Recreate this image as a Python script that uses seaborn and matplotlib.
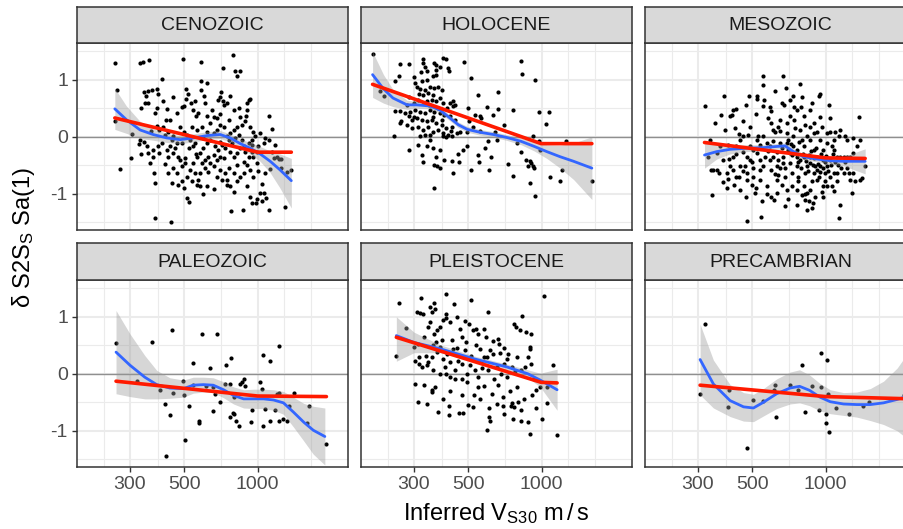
import matplotlib
matplotlib.use('Agg')
import matplotlib.pyplot as plt
from matplotlib.ticker import NullFormatter
import seaborn as sns

sns.set_theme(style='white')
plt.rcParams['font.family'] = ['Liberation Sans', 'DejaVu Sans']
plt.rcParams['mathtext.fontset'] = 'custom'
plt.rcParams['mathtext.rm'] = 'Liberation Sans'
plt.rcParams['mathtext.it'] = 'Liberation Sans:italic'

# ---------------- data ----------------
panels = ['CENOZOIC', 'HOLOCENE', 'MESOZOIC', 'PALEOZOIC', 'PLEISTOCENE', 'PRECAMBRIAN']
x_ticks = [300, 500, 1000]
x_tick_labels = ['300', '500', '1000']
y_ticks = [-1, 0, 1]
y_tick_labels = ['-1', '0', '1']
x_label = r'Inferred V$_\mathregular{S30}$ m$\,$/$\,$s'
y_label = r'δ S2S$_\mathregular{S}$ Sa(1)'

cen_pts = [(260,1.29),(266,0.82),(260,0.27),(272,-0.57),(302,-0.37),(305,0.05),(330,1.29),(338,1.32),(359,1.35),(407,1.01),
 (341,0.78),(357,0.80),(348,0.71),(369,0.82),(386,0.84),(392,0.75),(346,0.60),(356,0.59),(333,0.50),(408,0.62),
 (386,0.50),(381,0.42),(424,0.49),(330,-0.05),(328,-0.12),(341,-0.10),(351,-0.17),(333,-0.30),(373,-0.35),(376,-0.63),
 (381,-0.81),(380,-1.43),(442,-1.50),(386,0.19),(395,0.12),(411,0.17),(431,0.09),(452,0.01),(392,-0.17),(424,-0.24),
 (417,-0.47),(431,-0.35),(452,-0.29),(438,0.30),(466,0.42),(489,0.53),(497,0.54),(508,0.84),(494,1.36),(509,0.66),
 (534,0.59),(545,0.47),(554,0.62),(558,0.37),(572,0.42),(587,1.32),(585,0.97),(587,0.82),(604,0.72),(610,0.59),
 (649,0.47),(619,0.36),(660,0.35),(680,0.33),(691,0.65),(702,0.70),(709,0.78),(720,0.62),(725,0.56),(748,0.59),
 (772,0.71),(797,0.47),(835,0.50),(720,1.20),(792,1.43),(809,1.16),(822,1.07),(849,1.16),(903,0.59),(918,0.65),
 (932,0.67),(903,0.47),(898,0.36),(1112,0.36),(1150,0.13),(1108,-0.06),(1073,-0.02),(1058,-0.11),(1024,0.06),(1317,-0.61),
 (1374,-0.59),(1218,-0.39),(1162,-0.37),(1119,-0.57),(1073,-0.64),(1041,-0.82),(1058,-0.99),(1080,-1.08),(1041,-1.13),(983,-1.16),
 (1116,-1.29),(1295,-1.24),(875,-1.28),(779,-1.31),
 (660,-0.92),(619,-0.87),(581,-0.87),(521,-1.15),(512,-1.08),(497,-0.90),(474,-0.84),(445,-0.81),(466,-0.63),(489,-0.52),
 (506,-0.46),(529,-0.58),(554,-0.64),(572,-0.75),(581,-0.64),(610,-0.55),(629,-0.61),(639,-0.46),(660,-0.52),(680,-0.40),
 (702,-0.35),(725,-0.37),(736,-0.64),(748,-0.75),(772,-0.87),(797,-0.96),(822,-0.78),(849,-0.70),(876,-0.64),(903,-0.49),
 (932,-0.58),(961,-0.70),(992,-0.46),(961,-0.35),(797,-0.35),(772,-0.26),(822,-0.29),(849,-0.20),(876,-0.17),(918,-0.11),
 (947,-0.05),(977,0.01),(1008,-0.17),(992,-0.26),(961,0.09),(932,0.18),(889,0.27),(862,0.21),(822,0.18),(797,0.12),
 (772,0.06),(748,0.01),(725,0.18),(702,0.21),(680,0.12),(660,0.06),(639,-0.05),(619,-0.11),(600,-0.20),(581,-0.29),
 (563,-0.35),(545,-0.17),(529,-0.05),(512,0.04),(497,0.09),(482,0.18),(537,0.18),(563,0.12),(591,0.18),(619,0.09),
 (600,-0.02),(554,-0.11),(521,-0.20),(489,-0.11),(466,-0.11),(445,-0.05),(474,-0.35),(505,-0.37),(670,-0.17),(691,-0.23),
 (713,-0.14),(736,-0.20),(760,-0.05),(784,-0.11),(809,-0.02),(835,0.04),(862,-0.05),(889,-0.26),(918,-0.35),(947,-0.26),
 (660,-0.32),(629,-0.35),(610,-0.40),(591,-0.46),(545,-0.46),(702,-0.58),(680,-0.70),(713,-0.75),(748,-0.84),(797,-0.64),
 (512,-0.70),(537,-0.78),(563,-0.84),(489,-0.78),(452,-0.55),(431,-0.64),(396,-0.29),(373,-0.23),(357,-0.29),(362,-0.46),
 (404,-0.11),(438,-0.17),(417,0.04),(459,-0.20),(903,-0.87),(932,-1.05),(947,-1.16),(992,-1.10),(1024,-0.99),(1198,-0.35),
 (1143,-0.26),(1245,-0.39),
 (450,0.70),(520,0.75),(620,0.95),(700,0.40),(760,0.30),(850,0.35),(950,-0.15),(880,-0.45),(820,-0.50),(760,-0.55),
 (700,-0.10),(640,0.25),(560,-0.30),(480,-0.40),(420,0.30),(365,0.10),(1000,-0.60),(1180,-0.15),(1250,-0.55),(600,-1.00)]

hol_pts = [(203,1.45),(218,0.80),(227,0.71),(248,0.02),(250,0.97),(261,1.06),(263,1.28),(285,1.28),(250,0.46),(263,0.46),
 (287,-0.23),(265,0.27),(328,1.36),(328,1.29),(333,1.23),(363,1.29),(368,1.26),(383,1.23),(395,1.38),(406,1.36),
 (415,1.20),(416,1.16),(321,1.13),(340,1.15),(368,1.18),(323,0.97),(340,1.00),(359,1.06),(368,1.09),(304,0.94),
 (308,0.87),(318,0.84),(333,0.82),(349,0.88),(363,0.85),(375,0.87),(389,0.82),(328,0.74),(344,0.77),(359,0.74),
 (383,0.68),(313,0.65),(299,0.59),(338,0.62),(354,0.65),(368,0.62),(395,0.59),(421,0.59),(435,0.54),(442,0.56),
 (432,0.62),(281,0.56),(290,0.44),(304,0.47),(318,0.44),(333,0.42),(349,0.47),(363,0.44),(383,0.42),(400,0.39),
 (421,0.36),(276,0.42),(285,0.36),(294,0.30),(308,0.33),(323,0.30),(338,0.27),(354,0.30),(368,0.24),(389,0.21),
 (406,0.15),(428,0.18),(263,0.24),(281,0.21),(294,0.15),(313,0.18),(328,0.12),(344,0.18),(359,0.09),(375,0.12),
 (395,0.06),(413,0.04),(318,0.01),(333,0.04),(349,0.04),(395,0.01),(406,-0.01),(428,0.02),(449,0.06),(464,0.09),
 (313,-0.14),(338,-0.17),(359,-0.20),(383,-0.23),(323,-0.32),(328,-0.45),(363,-0.49),(371,-0.51),(383,-0.55),(435,-0.64),
 (431,-0.42),(456,-0.30),(363,-0.90),(483,1.32),(515,1.03),(478,-0.23),(496,-0.17),(515,-0.58),(547,0.74),(547,-0.32),
 (553,-0.45),(586,-0.20),(596,0.52),(602,-0.08),(607,-0.58),(634,0.39),(644,0.09),(665,0.49),(665,0.78),(531,0.39),
 (557,0.36),(563,0.33),(506,0.27),(522,0.18),(496,0.09),(654,-0.05),(731,-0.47),(764,0.47),(764,-0.68),(796,-0.11),
 (824,-0.26),(824,1.33),(832,1.11),(938,1.00),(865,-0.40),(892,-0.43),(906,-0.46),(920,-0.52),(878,-0.52),(934,-0.55),
 (892,-0.81),(938,-1.04),(972,0.44),(1067,0.44),(1040,0.22),(920,0.01),(972,-0.08),(986,-0.23),(1083,-0.70),(1191,-0.78),
 (1208,-0.58),(1254,-0.07),(1606,-0.77),
 (300,1.05),(315,0.75),(345,0.55),(360,0.35),(375,0.50),(390,0.30),(410,0.50),(425,0.10),(440,0.30),(300,0.35),
 (285,0.70),(330,0.60),(350,-0.05),(370,-0.35),(400,-0.40),(460,-0.45),(500,0.50),(560,0.10),(700,0.20),(620,-0.35)]

mes_pts = [(321,0.54),(336,-0.06),(339,-0.58),(342,-1.02),(352,0.24),(360,-0.58),(367,-0.64),(372,0.39),(384,0.72),(387,0.12),
 (393,-0.90),(399,-0.74),(403,-0.39),(406,0.36),(412,0.39),(419,0.47),(429,0.48),(425,0.15),(431,-0.70),(442,-0.71),
 (445,-0.93),(459,0.27),(459,-0.26),(468,-0.52),(475,-0.75),(478,-1.47),(482,0.04),(486,0.71),(489,-0.17),(497,-0.84),
 (506,-0.55),(514,-0.99),(522,0.71),(525,0.66),(530,0.02),(539,-0.75),(542,-1.40),(547,-1.13),(552,1.07),(556,0.91),
 (556,0.54),(565,-0.35),(573,-0.87),(576,-1.00),(582,0.33),(591,0.53),(600,0.24),(611,-0.35),(614,-1.11),(621,0.09),
 (630,-0.75),(641,0.18),(651,-0.55),(661,0.59),(672,1.07),(676,0.56),(682,-1.22),(693,0.24),(704,-0.23),(715,0.36),
 (726,-0.32),(738,0.71),(743,0.53),(750,0.15),(762,-0.52),(774,-0.70),(787,0.92),(792,0.53),(799,-0.05),(812,-0.87),
 (824,-1.11),(838,-1.28),(851,-0.32),(865,0.18),(879,0.59),(888,-1.16),(893,-0.23),(906,-0.52),(921,-0.75),(936,0.71),
 (951,0.75),(965,0.18),(980,-0.40),(995,-0.64),(1011,0.06),(1028,0.56),(1045,0.33),(1062,-0.17),(1079,-0.64),(1094,0.09),
 (1111,-0.35),(1129,0.01),(1147,-1.19),(1147,-0.35),(1184,-0.35),(1202,0.01),(1221,-0.55),(1241,-0.64),(1260,-0.35),(1280,-0.99),
 (1300,-0.02),(1321,-0.78),(1342,-0.17),(1374,0.34),(1410,-0.72),(1452,-0.52),(1129,-1.43),(879,-1.25),(851,-1.13),(838,-0.99),
 (591,-0.17),(611,-0.08),(630,-0.26),(651,-0.11),(672,-0.35),(693,-0.11),(715,-0.46),(738,-0.17),(762,-0.35),(787,-0.40),
 (812,-0.17),(838,-0.52),(865,-0.35),(893,-0.64),(921,-0.35),(951,-0.52),(980,-0.23),(1011,-0.52),(1045,-0.40),(1079,-0.23),
 (1111,-0.64),(600,-0.58),(641,-0.67),(682,-0.70),(726,-0.64),(774,-0.78),(824,-0.64),(879,-0.78),(936,-0.70),(995,-0.78),
 (1062,-0.87),(611,0.12),(651,0.30),(693,0.06),(738,0.01),(787,0.12),(838,0.01),(893,0.06),(951,-0.05),(1011,-0.11),
 (1079,-0.05),(921,0.09),(812,0.36),(762,0.47),(715,0.65),(865,0.47),(522,-0.29),(539,-0.40),(556,-0.52),(506,-0.23),
 (489,-0.40),(475,-0.35),(445,-0.05),(431,-0.17),(419,-0.35),(406,-0.52),(393,-0.64),(381,-0.40),(370,-0.17),(358,-0.29),
 (347,-0.58),(331,-0.35),(459,0.01),(489,0.18),(522,-0.05),(556,0.01),(573,-0.11),(591,-0.40),(630,-0.52),(672,-0.46),
 (715,-0.29),(762,-0.23),(812,-0.35),(865,-0.46),(921,-0.58),(980,-0.87),(1045,-0.70),(1111,-0.78),(1184,-0.64),(1260,-0.75),
 (1221,-0.35),(1300,-0.64),(1386,-0.75),(1011,-0.87),(965,-0.96),(906,-1.05),(865,-0.93),(799,-1.02),(762,-0.93),(726,-0.87),
 (693,-0.93),(661,-0.84),(630,-0.99),(445,-0.52),(475,-0.64),(506,-0.70),(539,-0.58),(419,-0.58),(1147,0.12),(1045,0.09),
 (1221,-0.05),(1300,-0.29),(1386,-0.05),
 (700,-0.05),(720,-0.12),(745,-0.28),(770,-0.45),(790,-0.55),(805,-0.30),(830,-0.42),(845,-0.60),(870,-0.25),(885,-0.50),
 (900,-0.38),(915,-0.20),(930,-0.47),(945,-0.62),(960,-0.30),(975,-0.55),(990,-0.45),(1005,-0.33),(1020,-0.60),(1050,-0.50),
 (1070,-0.30),(1090,-0.45),(1120,-0.50),(1160,-0.55),(1200,-0.45),(780,-0.10),(820,0.20),(860,-0.05),(900,0.25),(950,0.35),
 (640,-0.40),(660,-0.20),(680,-0.55),(620,-0.65),(580,-0.25),(540,-0.15),(500,-0.45),(460,-0.60),(430,-0.30),(400,-0.15),
 (380,-0.80),(420,-0.85),(470,-1.05),(520,-0.90),(600,-1.05),(700,-1.10),(760,-1.20),(820,-1.00),(980,-1.05),(1080,-0.95),
 (560,0.65),(620,0.80),(690,0.85),(740,0.30),(800,0.70),(600,0.45),(650,0.10),(470,0.55),(520,0.40),(440,0.05)]

pal_pts = [(263,0.54),(322,-0.13),(369,0.56),(400,-0.28),(416,-0.53),(420,-1.44),(437,-0.72),(444,0.77),(452,-0.34),(494,-0.12),
 (497,-0.38),(505,-1.17),(521,-0.56),(545,0.19),(545,-0.19),(575,-0.82),(575,-0.87),(589,0.69),(613,-0.22),(637,0.11),
 (654,-0.65),(669,-0.36),(680,0.69),(702,-0.50),(743,0.16),(736,-0.18),(772,-0.18),(777,0.28),(772,-0.76),(789,-0.69),
 (797,-0.70),(797,-0.41),(817,-0.82),(835,-0.91),(849,-0.18),(862,-0.15),(876,-0.09),(884,-0.22),(937,-0.85),(947,-0.64),
 (1024,-0.15),(1041,-0.26),(1047,0.33),(1047,-0.91),(1073,-0.61),(1119,-0.82),(1126,0.22),(1177,-0.63),(1198,-0.35),(1218,-0.82),
 (1222,0.49),(1229,-0.33),(1276,-0.80),(1317,-0.82),(1338,-0.56),(1415,-0.33),(1586,-0.87),(1620,-0.57),(1913,-1.24),(658,-0.23)]

ple_pts = [(260,1.25),(254,0.31),(278,0.81),(304,-0.18),(312,-0.50),(309,1.09),(318,1.06),(320,1.33),(326,1.04),(349,1.18),
 (364,1.24),(366,1.14),(354,1.08),(343,0.82),(361,0.70),(373,0.76),(383,0.82),(395,0.94),(406,1.05),(406,1.40),
 (404,0.98),(421,0.91),(437,1.22),(448,0.99),(464,0.79),(484,0.92),(505,0.88),(513,1.30),(523,0.76),(540,0.79),
 (548,0.70),(583,0.79),(601,1.09),(592,0.64),(634,0.58),(665,0.61),(667,0.53),(771,0.87),(783,0.82),(831,1.01),
 (819,0.76),(865,0.73),(903,0.69),(892,0.47),(896,0.44),(1018,1.36),(311,0.53),(315,0.29),(315,0.18),(325,0.12),
 (335,0.32),(344,0.20),(354,0.29),(359,0.06),(373,0.38),(383,0.47),(395,0.26),(402,0.12),(406,0.00),(421,0.20),
 (435,0.44),(442,0.06),(456,0.23),(471,0.18),(487,0.41),(496,0.00),(513,0.32),(531,0.06),(548,-0.06),(557,0.44),
 (563,0.20),(583,0.29),(602,0.06),(616,0.41),(634,0.35),(654,0.12),(676,0.36),(698,0.18),(720,0.26),(731,0.35),
 (758,0.12),(796,0.29),(824,0.06),(851,0.12),(878,0.29),(906,0.18),(304,0.23),(301,0.47),(338,0.15),(383,0.00),
 (356,-0.29),(354,-0.32),(366,-0.23),(375,-0.67),(338,-0.53),(395,-0.44),(416,-0.57),(416,-0.73),(421,-0.06),(442,-0.09),
 (459,-0.69),(476,-0.69),(471,-0.38),(496,-0.15),(499,-0.54),(522,-0.58),(530,-0.38),(548,-0.23),(583,-0.22),(596,-0.98),
 (609,-0.75),(614,-0.82),(627,-0.35),(654,-0.53),(665,-0.20),(693,-0.41),(693,-0.56),(720,-0.06),(746,-0.56),(758,-0.51),
 (771,-0.58),(796,-0.23),(824,-0.64),(824,-0.83),(878,-0.85),(896,-1.06),(909,-0.38),(948,-0.29),(1000,-0.79),(1050,-0.51),
 (1113,0.16),(1157,-1.08),(983,-0.23),(1050,-0.23),
 (330,0.65),(350,0.90),(370,0.55),(390,0.60),(410,0.35),(430,0.60),(450,0.45),(470,0.65),(490,0.55),(510,0.15),
 (540,0.50),(570,0.10),(600,0.30),(640,-0.10),(680,0.00),(700,0.45),(740,-0.30),(780,0.05),(850,-0.45),(930,-0.10),
 (330,-0.20),(360,0.50),(420,-0.30),(470,-0.10),(560,-0.45),(610,-0.60),(700,-0.70),(760,-0.80),(800,-0.50),(950,-0.60)]

pre_pts = [(306,-0.36),(321,0.87),(397,-0.58),(401,-0.28),(476,-1.30),(503,-0.46),(556,-0.47),(614,-0.28),(623,-0.20),(625,-0.75),
 (715,-0.20),(774,-0.28),(799,0.16),(826,-0.67),(882,-0.22),(939,-0.63),(955,0.37),(958,-0.23),(1005,-0.71),(1005,-0.87),
 (1011,0.25),(1018,-0.36),(1035,-1.02),(1105,-0.60),(1245,-0.70),(1421,-0.57),(1512,-0.50),(2088,-0.37)]

# LOESS curves (blue) with confidence band, and piecewise fits (red)
cen_loess_x = [260, 290, 330, 373, 424, 482, 545, 619, 702, 772, 849, 932, 1024, 1126, 1235, 1374]
cen_loess_y = [0.49, 0.30, 0.12, 0.04, -0.02, -0.05, -0.02, 0.02, 0.04, -0.02, -0.12, -0.20, -0.30, -0.43, -0.58, -0.77]
cen_lo = [0.13, 0.06, -0.03, -0.06, -0.10, -0.12, -0.09, -0.05, -0.03, -0.09, -0.20, -0.30, -0.43, -0.63, -0.90, -1.25]
cen_hi = [0.85, 0.54, 0.27, 0.14, 0.06, 0.02, 0.05, 0.09, 0.11, 0.05, -0.04, -0.10, -0.17, -0.25, -0.30, -0.38]
cen_fit_x = [260, 1000, 1374]
cen_fit_y = [0.33, -0.27, -0.27]

hol_loess_x = [203, 225, 246, 281, 308, 349, 383, 421, 456, 496, 557, 634, 716, 824, 934, 1050, 1191, 1352, 1606]
hol_loess_y = [1.09, 0.84, 0.68, 0.56, 0.56, 0.54, 0.47, 0.33, 0.21, 0.13, 0.08, 0.04, -0.01, -0.08, -0.17, -0.26, -0.35, -0.43, -0.55]
hol_lo = [0.69, 0.59, 0.53, 0.48, 0.50, 0.49, 0.42, 0.28, 0.16, 0.08, 0.03, -0.01, -0.06, -0.14, -0.25, -0.38, -0.55, -0.75, -1.10]
hol_hi = [1.49, 1.09, 0.83, 0.64, 0.62, 0.59, 0.52, 0.38, 0.26, 0.18, 0.13, 0.09, 0.04, -0.02, -0.09, -0.14, -0.15, -0.11, 0.00]
hol_fit_x = [203, 995, 1606]
hol_fit_y = [0.92, -0.12, -0.12]

mes_loess_x = [319, 358, 406, 475, 556, 630, 682, 738, 812, 921, 1045, 1184, 1452]
mes_loess_y = [-0.32, -0.26, -0.22, -0.20, -0.19, -0.17, -0.16, -0.26, -0.35, -0.39, -0.42, -0.43, -0.43]
mes_lo = [-0.55, -0.39, -0.30, -0.26, -0.24, -0.22, -0.21, -0.31, -0.40, -0.44, -0.48, -0.51, -0.65]
mes_hi = [-0.09, -0.13, -0.14, -0.14, -0.14, -0.12, -0.11, -0.21, -0.30, -0.34, -0.36, -0.35, -0.21]
mes_fit_x = [319, 1000, 1452]
mes_fit_y = [-0.10, -0.37, -0.38]

pal_loess_x = [263, 300, 345, 386, 437, 497, 545, 600, 658, 725, 797, 876, 961, 1058, 1162, 1276, 1400, 1546, 1690, 1885]
pal_loess_y = [0.38, 0.15, -0.06, -0.19, -0.25, -0.26, -0.20, -0.19, -0.20, -0.28, -0.38, -0.44, -0.44, -0.44, -0.46, -0.51, -0.67, -0.85, -0.99, -1.10]
pal_lo = [-0.35, -0.40, -0.44, -0.44, -0.43, -0.41, -0.34, -0.32, -0.33, -0.42, -0.53, -0.60, -0.61, -0.61, -0.64, -0.71, -0.93, -1.18, -1.41, -1.60]
pal_hi = [1.11, 0.70, 0.32, 0.06, -0.07, -0.11, -0.06, -0.06, -0.07, -0.14, -0.23, -0.28, -0.27, -0.27, -0.28, -0.31, -0.41, -0.52, -0.57, -0.60]
pal_fit_x = [263, 1000, 1913]
pal_fit_y = [-0.13, -0.39, -0.40]

ple_loess_x = [254, 300, 383, 531, 720, 878, 986, 1157]
ple_loess_y = [0.67, 0.55, 0.44, 0.26, 0.12, 0.00, -0.11, -0.28]
ple_lo = [0.22, 0.37, 0.37, 0.21, 0.07, -0.07, -0.23, -0.64]
ple_hi = [1.00, 0.73, 0.51, 0.31, 0.17, 0.07, 0.01, 0.08]
ple_fit_x = [254, 995, 1157]
ple_fit_y = [0.64, -0.15, -0.16]

pre_loess_x = [306, 347, 406, 461, 506, 556, 630, 715, 782, 859, 948, 1045, 1184, 1342, 1523, 1727, 1963, 2250]
pre_loess_y = [0.25, -0.18, -0.47, -0.58, -0.60, -0.50, -0.35, -0.25, -0.22, -0.29, -0.41, -0.49, -0.53, -0.54, -0.54, -0.51, -0.45, -0.37]
pre_lo = [-0.37, -0.60, -0.75, -0.83, -0.84, -0.74, -0.61, -0.53, -0.51, -0.56, -0.65, -0.70, -0.73, -0.76, -0.82, -0.89, -1.00, -1.20]
pre_hi = [0.87, 0.24, -0.19, -0.33, -0.36, -0.26, -0.09, 0.03, 0.07, -0.02, -0.17, -0.28, -0.33, -0.32, -0.26, -0.13, 0.10, 0.46]
pre_fit_x = [306, 1000, 2250]
pre_fit_y = [-0.20, -0.40, -0.44]

panel_data = {
    'CENOZOIC': (cen_pts, cen_loess_x, cen_loess_y, cen_lo, cen_hi, cen_fit_x, cen_fit_y),
    'HOLOCENE': (hol_pts, hol_loess_x, hol_loess_y, hol_lo, hol_hi, hol_fit_x, hol_fit_y),
    'MESOZOIC': (mes_pts, mes_loess_x, mes_loess_y, mes_lo, mes_hi, mes_fit_x, mes_fit_y),
    'PALEOZOIC': (pal_pts, pal_loess_x, pal_loess_y, pal_lo, pal_hi, pal_fit_x, pal_fit_y),
    'PLEISTOCENE': (ple_pts, ple_loess_x, ple_loess_y, ple_lo, ple_hi, ple_fit_x, ple_fit_y),
    'PRECAMBRIAN': (pre_pts, pre_loess_x, pre_loess_y, pre_lo, pre_hi, pre_fit_x, pre_fit_y),
}

# ---------------- layout ----------------
W, H = 904, 529
fig = plt.figure(figsize=(W / 100, H / 100), dpi=100)
col_left = [77, 361, 645]
pw = 271
rows = [(7, 43, 230), (243, 280, 467)]  # strip top, panel top, panel bottom

TICK_FS = 14
TITLE_FS = 17
border = '#333333'

for i, name in enumerate(panels):
    r, c = divmod(i, 3)
    st, pt, pb = rows[r]
    L = col_left[c]
    ax = fig.add_axes([L / W, 1 - pb / H, pw / W, (pb - pt) / H])
    sax = fig.add_axes([L / W, 1 - pt / H, pw / W, (pt - st) / H])

    pts, lx, ly, llo, lhi, fx, fy = panel_data[name]
    px = [p[0] for p in pts]
    py = [p[1] for p in pts]

    ax.axhline(0, color='#8F8F8F', lw=1.0, zorder=1.5)
    sns.scatterplot(x=px, y=py, ax=ax, color='black', s=9, linewidth=0, zorder=2, legend=False)
    ax.fill_between(lx, llo, lhi, color='#999999', alpha=0.4, linewidth=0, zorder=3)
    sns.lineplot(x=lx, y=ly, ax=ax, color='#3366FF', linewidth=2.0, estimator=None, sort=False, zorder=4)
    sns.lineplot(x=fx, y=fy, ax=ax, color='#FF1A00', linewidth=2.6, estimator=None, sort=False, zorder=5)

    ax.set_xscale('log')
    ax.set_xlim(182, 2345)
    ax.set_ylim(-1.635, 1.645)
    ax.set_xticks(x_ticks)
    ax.set_xticklabels(x_tick_labels)
    ax.set_xticks([235, 391, 707, 1283, 1652], minor=True)
    ax.xaxis.set_minor_formatter(NullFormatter())
    ax.set_yticks(y_ticks)
    ax.set_yticklabels(y_tick_labels)
    ax.set_yticks([-1.5, -0.5, 0.5, 1.5], minor=True)
    ax.set_facecolor('white')
    ax.grid(which='major', color='#EBEBEB', lw=1.5, zorder=0)
    ax.grid(which='minor', color='#EBEBEB', lw=0.8, zorder=0)
    ax.set_axisbelow(True)
    for s in ax.spines.values():
        s.set_color(border)
        s.set_linewidth(1.1)
        s.set_visible(True)
    ax.tick_params(which='minor', length=0)
    ax.tick_params(which='major', length=3.5, width=1.0, color=border,
                   labelsize=TICK_FS, labelcolor='#4D4D4D', pad=3)
    ax.tick_params(axis='x', bottom=(r == 1), labelbottom=(r == 1), top=False)
    ax.tick_params(axis='y', left=(c == 0), labelleft=(c == 0), right=False)
    ax.set_xlabel('')
    ax.set_ylabel('')

    sax.set_facecolor('#D9D9D9')
    sax.set_xticks([])
    sax.set_yticks([])
    sax.grid(False)
    for s in sax.spines.values():
        s.set_color(border)
        s.set_linewidth(1.1)
        s.set_visible(True)
    sax.text(0.5, 0.48, name, ha='center', va='center', fontsize=TICK_FS,
             color='#1A1A1A', transform=sax.transAxes)

fig.text(496.5 / W, 1 - 514 / H, x_label, ha='center', va='center', fontsize=TITLE_FS, color='black')
fig.text(24 / W, 1 - 237 / H, y_label, ha='center', va='center', rotation=90, fontsize=TITLE_FS, color='black')

fig.savefig('out.png', dpi=100)
